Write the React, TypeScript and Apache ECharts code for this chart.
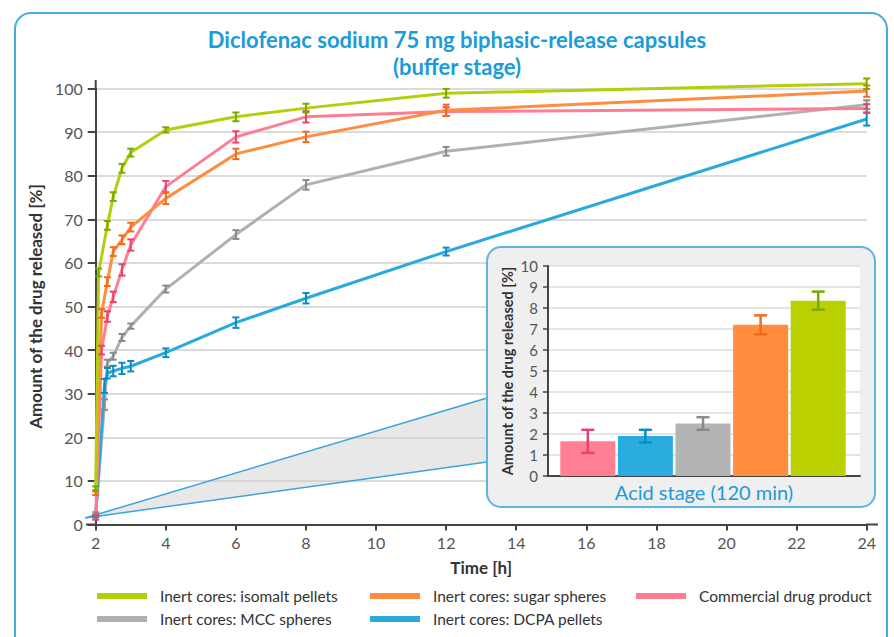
import React, { useEffect, useRef } from "react";
import * as echarts from "echarts";

// ---------- data ----------
const TIMES = [2, 2.083, 2.167, 2.25, 2.333, 2.5, 2.75, 3, 4, 6, 8, 12, 24];

const NAME_ISOMALT = "Inert cores: isomalt pellets";
const NAME_SUGAR = "Inert cores: sugar spheres";
const NAME_COMMERCIAL = "Commercial drug product";
const NAME_MCC = "Inert cores: MCC spheres";
const NAME_DCPA = "Inert cores: DCPA pellets";

const ISOMALT = [8.3, 57.8, null, null, 68.6, 75.2, 81.7, 85.3, 90.5, 93.5, 95.5, 98.9, 101.1];
const ISOMALT_ERR = [0.45, 0.9, null, null, 1.0, 1.0, 1.0, 0.9, 0.6, 1.0, 1.0, 1.0, 1.2];
const SUGAR = [7.2, null, 48.4, null, 55.7, 62.6, 65.3, 68.2, 74.8, 85.0, 88.9, 95.0, 99.4];
const SUGAR_ERR = [0.45, null, 1.0, null, 1.0, 1.0, 1.0, 1.0, 1.3, 1.2, 1.2, 1.3, 1.3];
const COMMERCIAL = [1.65, null, 40.0, null, 47.7, 52.2, 58.4, 64.1, 77.5, 88.9, 93.5, 94.7, 95.4];
const COMMERCIAL_ERR = [0.55, null, 1.0, null, 1.2, 1.2, 1.3, 1.3, 1.3, 1.3, 1.3, 1.0, 1.0];
const MCC = [2.5, null, null, 27.5, 37.0, 38.6, 42.9, 45.5, 54.0, 66.5, 77.9, 85.6, 96.3];
const MCC_ERR = [0.3, null, null, 1.2, 0.8, 0.8, 0.8, 0.6, 0.8, 1.0, 1.1, 1.0, 1.0];
const DCPA = [1.9, null, null, 31.8, 34.7, 35.2, 35.8, 36.3, 39.4, 46.3, 51.9, 62.6, 93.0];
const DCPA_ERR = [0.3, null, null, 1.6, 1.2, 1.2, 1.3, 1.2, 1.0, 1.2, 1.2, 0.9, 1.5];

const X_TICK_INTERVAL = 2;
const Y_TICK_INTERVAL = 10;

const ACID_CATEGORIES = [NAME_COMMERCIAL, NAME_DCPA, NAME_MCC, NAME_SUGAR, NAME_ISOMALT];
const ACID_VALUES = [1.65, 1.9, 2.5, 7.2, 8.35];
const ACID_ERR = [0.55, 0.3, 0.3, 0.45, 0.43];

// ---------- styles ----------
const FONT = "Lato, 'Open Sans', sans-serif";
const C = {
  isomalt: { line: "#b3cf0c", err: "#78aa00", bar: "#bbd000" },
  sugar: { line: "#ff8d3f", err: "#f26b1d", bar: "#ff8d3d" },
  commercial: { line: "#ff7d93", err: "#e6456b", bar: "#ff7f94" },
  mcc: { line: "#b0b0b0", err: "#8a8a8a", bar: "#b4b4b4" },
  dcpa: { line: "#2aa9df", err: "#0b8cc4", bar: "#29ade0" },
};
const AXIS_COLOR = "#444";
const TITLE_BLUE = "#1b9bd7";

function errRender(color: string, half: number, lw: number) {
  return (params: any, api: any) => {
    const x = api.value(0);
    const y = api.value(1);
    const e = api.value(2);
    const p1 = api.coord([x, y + e]);
    const p2 = api.coord([x, y - e]);
    const style = { stroke: color, lineWidth: lw };
    return {
      type: "group",
      children: [
        { type: "line", shape: { x1: p1[0], y1: p1[1], x2: p2[0], y2: p2[1] }, style },
        { type: "line", shape: { x1: p1[0] - half, y1: p1[1], x2: p1[0] + half, y2: p1[1] }, style },
        { type: "line", shape: { x1: p2[0] - half, y1: p2[1], x2: p2[0] + half, y2: p2[1] }, style },
      ],
    };
  };
}

function lineData(vals: (number | null)[]) {
  return TIMES.map((t, i) => [t, vals[i]]);
}
function errData(vals: (number | null)[], errs: (number | null)[]) {
  const out: number[][] = [];
  TIMES.forEach((t, i) => {
    const v = vals[i];
    const e = errs[i];
    if (v != null && e != null) out.push([t, v, e]);
  });
  return out;
}

const MAIN = [
  { name: NAME_MCC, vals: MCC, errs: MCC_ERR, c: C.mcc },
  { name: NAME_DCPA, vals: DCPA, errs: DCPA_ERR, c: C.dcpa },
  { name: NAME_COMMERCIAL, vals: COMMERCIAL, errs: COMMERCIAL_ERR, c: C.commercial },
  { name: NAME_SUGAR, vals: SUGAR, errs: SUGAR_ERR, c: C.sugar },
  { name: NAME_ISOMALT, vals: ISOMALT, errs: ISOMALT_ERR, c: C.isomalt },
];

const ACID_COLORS = [C.commercial, C.dcpa, C.mcc, C.sugar, C.isomalt];

function legendItem(name: string, left: number, top: number) {
  return {
    data: [name],
    left,
    top,
    padding: 0,
    icon: "rect",
    itemWidth: 50,
    itemHeight: 6,
    textStyle: { fontFamily: FONT, fontSize: 15.5, color: "#333", padding: [0, 0, 0, 8] },
    selectedMode: false,
  };
}

export default function App() {
  const ref = useRef<HTMLDivElement>(null);
  useEffect(() => {
    if (!ref.current) return;
    const chart = echarts.init(ref.current, undefined, { renderer: "svg" });

    const series: any[] = [];
    MAIN.forEach((s) => {
      series.push({
        type: "line",
        name: s.name,
        xAxisIndex: 0,
        yAxisIndex: 0,
        data: lineData(s.vals),
        connectNulls: true,
        showSymbol: false,
        clip: false,
        color: s.c.line,
        lineStyle: { width: 3, color: s.c.line },
        z: 2,
      });
    });
    MAIN.forEach((s) => {
      series.push({
        type: "custom",
        name: "err " + s.name,
        xAxisIndex: 0,
        yAxisIndex: 0,
        data: errData(s.vals, s.errs),
        encode: { x: 0, y: 1 },
        clip: false,
        renderItem: errRender(s.c.err, 3.5, 2),
        z: 3,
      });
    });
    series.push({
      type: "bar",
      name: "acid",
      xAxisIndex: 2,
      yAxisIndex: 2,
      barWidth: 55,
      data: ACID_VALUES.map((v, i) => ({ value: v, itemStyle: { color: ACID_COLORS[i].bar } })),
      z: 12,
    });
    series.push({
      type: "custom",
      name: "acid err",
      xAxisIndex: 2,
      yAxisIndex: 2,
      data: ACID_VALUES.map((v, i) => ({
        value: [i, v, ACID_ERR[i]],
        itemStyle: { color: ACID_COLORS[i].err },
      })),
      encode: { x: 0, y: 1 },
      renderItem: (params: any, api: any) => {
        const r = errRender(ACID_COLORS[params.dataIndex].err, 6.5, 2.5);
        return r(params, api);
      },
      z: 13,
    });

    const option: any = {
      animation: false,
      textStyle: { fontFamily: FONT },
      title: {
        text: "Diclofenac sodium 75 mg biphasic-release capsules\n(buffer stage)",
        left: 452,
        textAlign: "center",
        top: 21,
        textStyle: {
          fontFamily: FONT,
          fontSize: 22,
          fontWeight: "bold",
          color: TITLE_BLUE,
          lineHeight: 27,
        },
      },
      legend: [
        legendItem(NAME_ISOMALT, 97, 588),
        legendItem(NAME_SUGAR, 370, 588),
        legendItem(NAME_COMMERCIAL, 636, 588),
        legendItem(NAME_MCC, 97, 611),
        legendItem(NAME_DCPA, 370, 611),
      ],
      grid: [
        { left: 95.7, right: 27.3, top: 88.5, bottom: 112.5 },
        {
          left: 548,
          top: 266,
          width: 312,
          height: 210,
          show: true,
          backgroundColor: "#ffffff",
          borderWidth: 0,
          z: 10,
        },
        { left: 559, top: 266, width: 288, height: 210, z: 10 },
      ],
      xAxis: [
        {
          gridIndex: 0,
          type: "value",
          min: 2,
          max: 24,
          interval: X_TICK_INTERVAL,
          axisLine: { lineStyle: { color: AXIS_COLOR, width: 2 } },
          axisTick: { show: true, length: 6, lineStyle: { color: AXIS_COLOR, width: 2 } },
          axisLabel: { color: "#555", fontSize: 16, margin: 10, fontFamily: FONT },
          splitLine: { show: false },
          name: "Time [h]",
          nameLocation: "middle",
          nameGap: 34,
          nameTextStyle: { fontFamily: FONT, fontWeight: "bold", fontSize: 17, color: "#333" },
        },
        {
          gridIndex: 1,
          type: "value",
          min: 0,
          max: 1,
          axisLine: { lineStyle: { color: AXIS_COLOR, width: 2 } },
          axisTick: { show: false },
          axisLabel: { show: false },
          splitLine: { show: false },
          name: "Acid stage (120 min)",
          nameLocation: "middle",
          nameGap: 6,
          nameTextStyle: { fontFamily: FONT, fontSize: 20, color: TITLE_BLUE },
          z: 11,
        },
        {
          gridIndex: 2,
          type: "category",
          data: ACID_CATEGORIES,
          show: false,
        },
      ],
      yAxis: [
        {
          gridIndex: 0,
          type: "value",
          min: 0,
          max: 100,
          interval: Y_TICK_INTERVAL,
          axisLine: { show: true, lineStyle: { color: AXIS_COLOR, width: 2 } },
          axisTick: { show: true, length: 8, lineStyle: { color: AXIS_COLOR, width: 2 } },
          axisLabel: { color: "#555", fontSize: 16, margin: 13, fontFamily: FONT },
          splitLine: { lineStyle: { color: "#cfcfcf", width: 1.5 } },
          name: "Amount of the drug released [%]",
          nameLocation: "middle",
          nameGap: 47,
          nameTextStyle: { fontFamily: FONT, fontWeight: "bold", fontSize: 17, color: "#333" },
        },
        {
          gridIndex: 1,
          type: "value",
          min: 0,
          max: 10,
          interval: 1,
          axisLine: { show: true, lineStyle: { color: AXIS_COLOR, width: 2 } },
          axisTick: { show: true, length: 5, lineStyle: { color: AXIS_COLOR, width: 1.5 } },
          axisLabel: { color: "#555", fontSize: 15, margin: 10, fontFamily: FONT },
          splitLine: { lineStyle: { color: "#dcdcdc", width: 1.5 } },
          name: "Amount of the drug released [%]",
          nameLocation: "middle",
          nameGap: 33,
          nameTextStyle: { fontFamily: FONT, fontWeight: "bold", fontSize: 14.5, color: "#333" },
          z: 11,
        },
        { gridIndex: 2, type: "value", min: 0, max: 10, show: false },
      ],
      graphic: [
        {
          type: "rect",
          shape: { x: 15, y: 13, width: 872, height: 650, r: 16 },
          style: { fill: "none", stroke: "#4aaedc", lineWidth: 2 },
          z: 0,
        },
        {
          type: "polygon",
          shape: { points: [[85, 518], [487, 398], [487, 462]] },
          style: { fill: "rgba(205,205,205,0.45)" },
          z: 1,
        },
        {
          type: "polyline",
          shape: { points: [[487, 398], [85, 518], [487, 462]] },
          style: { stroke: "#3aa5da", lineWidth: 1.5, fill: "none" },
          z: 1,
        },
        {
          type: "line",
          shape: { x1: 95.7, y1: 80, x2: 95.7, y2: 89 },
          style: { stroke: AXIS_COLOR, lineWidth: 2 },
          z: 1,
        },
        {
          type: "line",
          shape: { x1: 86, y1: 524.5, x2: 96, y2: 524.5 },
          style: { stroke: AXIS_COLOR, lineWidth: 2 },
          z: 1,
        },
        {
          type: "line",
          shape: { x1: 866, y1: 524.5, x2: 878, y2: 524.5 },
          style: { stroke: AXIS_COLOR, lineWidth: 2 },
          z: 1,
        },
        {
          type: "rect",
          shape: { x: 487, y: 247, width: 388, height: 260, r: 14 },
          style: { fill: "#efefef", stroke: "#5fb5dd", lineWidth: 2 },
          z: 8,
        },
      ],
      series,
    };
    chart.setOption(option);
    return () => chart.dispose();
  }, []);

  return (
    <div
      ref={ref}
      style={{ position: "fixed", left: 0, top: 0, width: 894, height: 637, background: "#fff" }}
    />
  );
}
